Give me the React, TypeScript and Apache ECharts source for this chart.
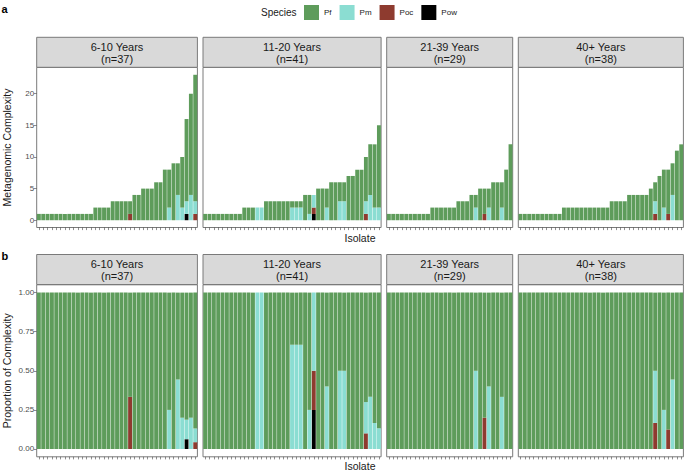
import React, { useEffect, useRef } from "react";
import * as echarts from "echarts";

// ---------- DATA ----------
const groups = ["6-10 Years", "11-20 Years", "21-39 Years", "40+ Years"];
const groupN = ["(n=37)", "(n=41)", "(n=29)", "(n=38)"];
const species = ["Pf", "Pm", "Poc", "Pow"];

// counts per isolate (sorted by complexity) for each age group
const pf610 = [1,1,1,1,1,1,1,1,1,1,1,1,1, 2,2,2,2, 3,3,3,3,2, 4,4, 5,5,5, 6,6, 8,6, 9,5, 8, 13, 16, 20];
const pm610 = [0,0,0,0,0,0,0,0,0,0, 0,0,0,0,0,0,0,0,0,0, 0,0,0,0,0,0,0,0,0,0, 2,0,4,2,2,4,2];
const poc610 = [0,0,0,0,0,0,0,0,0,0, 0,0,0,0,0,0,0,0,0,0, 0,1,0,0,0,0,0,0,0,0, 0,0,0,0,0,0,1];
const pow610 = [0,0,0,0,0,0,0,0,0,0, 0,0,0,0,0,0,0,0,0,0, 0,0,0,0,0,0,0,0,0,0, 0,0,0,0,1,0,0];

const pf1120 = [1,1,1,1,1,1,1,1,1, 2,2,2,0,0, 3,3,3,3,3,3,1,1,1, 4,3,0, 5,5,3, 6,6,3,3, 7,7, 8,8, 7, 8,10, 13];
const pm1120 = [0,0,0,0,0,0,0,0,0,0,0,0, 2,2, 0,0,0,0,0,0, 2,2,2, 0,1,2, 0,0,2, 0,0,3,3, 0,0, 0,0, 2, 4,2, 2];
const poc1120 = [0,0,0,0,0,0,0,0,0,0,0,0, 0,0, 0,0,0,0,0,0, 0,0,0, 0,0,1, 0,0,0, 0,0,0,0, 0,0, 0,0, 1, 0,0, 0];
const pow1120 = [0,0,0,0,0,0,0,0,0,0,0,0, 0,0, 0,0,0,0,0,0, 0,0,0, 0,0,1, 0,0,0, 0,0,0,0, 0,0, 0,0, 0, 0,0, 0];

const pf2139 = [1,1,1,1,1,1,1,1,1,1, 2,2,2,2,2,2, 3,3,3, 4,2, 5,4,3, 6,6,4, 8, 12];
const pm2139 = [0,0,0,0,0,0,0,0,0,0, 0,0,0,0,0,0, 0,0,0, 0,2, 0,0,2, 0,0,2, 0, 0];
const poc2139 = [0,0,0,0,0,0,0,0,0,0, 0,0,0,0,0,0, 0,0,0, 0,0, 0,1,0, 0,0,0, 0, 0];
const pow2139 = [0,0,0,0,0,0,0,0,0,0, 0,0,0,0,0,0, 0,0,0, 0,0, 0,0,0, 0,0,0, 0, 0];

const pf40 = [1,1,1,1,1,1,1,1,1,1, 2,2,2,2,2,2,2,2,2,2,2, 3,3,3,3, 4,4,4,4,4, 5, 3, 7, 6,7, 5, 11, 12];
const pm40 = [0,0,0,0,0,0,0,0,0,0, 0,0,0,0,0,0,0,0,0,0,0, 0,0,0,0, 0,0,0,0,0, 0, 2, 0, 2,0, 4, 0, 0];
const poc40 = [0,0,0,0,0,0,0,0,0,0, 0,0,0,0,0,0,0,0,0,0,0, 0,0,0,0, 0,0,0,0,0, 0, 1, 0, 0,1, 0, 0, 0];
const pow40 = [0,0,0,0,0,0,0,0,0,0, 0,0,0,0,0,0,0,0,0,0,0, 0,0,0,0, 0,0,0,0,0, 0, 0, 0, 0,0, 0, 0, 0];

const countTicks = [0, 5, 10, 15, 20];
const propTicks = [0, 0.25, 0.5, 0.75, 1];

const panels = [
  { Pf: pf610, Pm: pm610, Poc: poc610, Pow: pow610 },
  { Pf: pf1120, Pm: pm1120, Poc: poc1120, Pow: pow1120 },
  { Pf: pf2139, Pm: pm2139, Poc: poc2139, Pow: pow2139 },
  { Pf: pf40, Pm: pm40, Poc: poc40, Pow: pow40 },
];

const colors: Record<string, string> = {
  Pf: "#5E9C5B",
  Pm: "#8BDDD2",
  Poc: "#8E3B2F",
  Pow: "#000000",
};

// ---------- LAYOUT ----------
const FONT = '"Liberation Sans", Arial, Helvetica, sans-serif';
const colLeft = [36.7, 203.0, 386.7, 518.3];
const colWidth = [160.7, 178.1, 126.0, 165.1];
const rowTop = [67.5, 284.8];
const rowHeight = [160, 172];
const stripTop = [37.3, 254.5];
const stripH = 30;
const TXT = "#1a1a1a";
const AX = "#4D4D4D";
const BORDER = "#7a7a7a";

export default function App() {
  const ref = useRef<HTMLDivElement>(null);

  useEffect(() => {
    if (!ref.current) return;
    const chart = echarts.init(ref.current, undefined, { renderer: "svg" });

    const grid: any[] = [];
    const xAxis: any[] = [];
    const yAxis: any[] = [];
    const series: any[] = [];
    const graphic: any[] = [];

    for (let r = 0; r < 2; r++) {
      for (let p = 0; p < 4; p++) {
        const idx = r * 4 + p;
        const d = panels[p] as any;
        const n = d.Pf.length;
        const totals = d.Pf.map((_: number, i: number) => d.Pf[i] + d.Pm[i] + d.Poc[i] + d.Pow[i]);
        grid.push({
          left: colLeft[p],
          top: rowTop[r],
          width: colWidth[p],
          height: rowHeight[r],
          show: true,
          backgroundColor: "#ffffff",
          borderColor: BORDER,
          borderWidth: 1,
          containLabel: false,
        });
        xAxis.push({
          type: "category",
          gridIndex: idx,
          data: d.Pf.map((_: number, i: number) => String(i + 1)),
          boundaryGap: true,
          axisLine: { show: false, onZero: false },
          axisTick: {
            show: true,
            alignWithLabel: true,
            interval: 0,
            length: 2.6,
            lineStyle: { color: "#444", width: 0.6 },
          },
          axisLabel: { show: false, interval: 0 },
          splitLine: { show: false },
        });
        const ticks = r === 0 ? countTicks : propTicks;
        yAxis.push({
          type: "value",
          gridIndex: idx,
          min: r === 0 ? -1.15 : -0.05,
          max: r === 0 ? 24.15 : 1.05,
          axisLine: { show: false },
          splitLine: { show: false },
          axisTick: {
            show: p === 0,
            customValues: ticks,
            length: 2.7,
            lineStyle: { color: "#444", width: 0.6 },
          },
          axisLabel: {
            show: p === 0,
            customValues: ticks,
            fontSize: 8,
            fontFamily: FONT,
            color: AX,
            margin: 2.5,
            formatter: (v: number) => (r === 0 ? String(v) : v.toFixed(2)),
          },
        });
        // stacking: bottom to top Pow, Poc, Pm, Pf
        ["Pow", "Poc", "Pm", "Pf"].forEach((s) => {
          const vals = d[s].map((v: number, i: number) => (r === 0 ? v : v / totals[i]));
          series.push({
            type: "bar",
            name: s,
            xAxisIndex: idx,
            yAxisIndex: idx,
            stack: "st" + idx,
            data: vals,
            barCategoryGap: "10%",
            itemStyle: { color: colors[s] },
            emphasis: { disabled: true },
            silent: true,
          });
        });
        void n;
        // strip header
        graphic.push({
          type: "rect",
          shape: { x: colLeft[p], y: stripTop[r], width: colWidth[p], height: stripH },
          style: { fill: "#D9D9D9", stroke: BORDER, lineWidth: 1 },
          silent: true,
        });
        graphic.push({
          type: "text",
          x: colLeft[p] + colWidth[p] / 2,
          y: stripTop[r] + stripH / 2 + 0.5,
          style: {
            text: groups[p] + "\n" + groupN[p],
            fill: TXT,
            fontSize: 11,
            fontFamily: FONT,
            align: "center",
            verticalAlign: "middle",
            lineHeight: 12,
          },
          silent: true,
        });
      }
    }

    // panel letters
    graphic.push({
      type: "text", x: 1.5, y: 8.7,
      style: { text: "a", fill: "#000", fontSize: 11, fontWeight: "bold", fontFamily: FONT, align: "left", verticalAlign: "middle" },
    });
    graphic.push({
      type: "text", x: 1.5, y: 256,
      style: { text: "b", fill: "#000", fontSize: 11, fontWeight: "bold", fontFamily: FONT, align: "left", verticalAlign: "middle" },
    });
    // legend title
    graphic.push({
      type: "text", x: 261, y: 12.7,
      style: { text: "Species", fill: TXT, fontSize: 10, fontFamily: FONT, align: "left", verticalAlign: "middle" },
    });
    // axis titles
    graphic.push({
      type: "text", x: 360, y: 237.5,
      style: { text: "Isolate", fill: TXT, fontSize: 10.5, fontFamily: FONT, align: "center", verticalAlign: "middle" },
    });
    graphic.push({
      type: "text", x: 360, y: 466,
      style: { text: "Isolate", fill: TXT, fontSize: 10.5, fontFamily: FONT, align: "center", verticalAlign: "middle" },
    });
    graphic.push({
      type: "text", x: 7, y: 147.5, rotation: Math.PI / 2,
      style: { text: "Metagenomic Complexity", fill: TXT, fontSize: 10.5, fontFamily: FONT, align: "center", verticalAlign: "middle" },
    });
    graphic.push({
      type: "text", x: 7, y: 370.8, rotation: Math.PI / 2,
      style: { text: "Proportion of Complexity", fill: TXT, fontSize: 10.5, fontFamily: FONT, align: "center", verticalAlign: "middle" },
    });

    chart.setOption({
      animation: false,
      backgroundColor: "#ffffff",
      textStyle: { fontFamily: FONT },
      legend: {
        data: species,
        left: 304,
        top: 5,
        padding: 0,
        itemWidth: 15,
        itemHeight: 15,
        itemGap: 8,
        icon: "rect",
        selectedMode: false,
        textStyle: { fontSize: 8, color: TXT, fontFamily: FONT },
      },
      grid,
      xAxis,
      yAxis,
      series,
      graphic,
    });

    return () => chart.dispose();
  }, []);

  return (
    <div
      ref={ref}
      style={{ position: "absolute", left: 0, top: 0, width: 685, height: 471 }}
    />
  );
}
